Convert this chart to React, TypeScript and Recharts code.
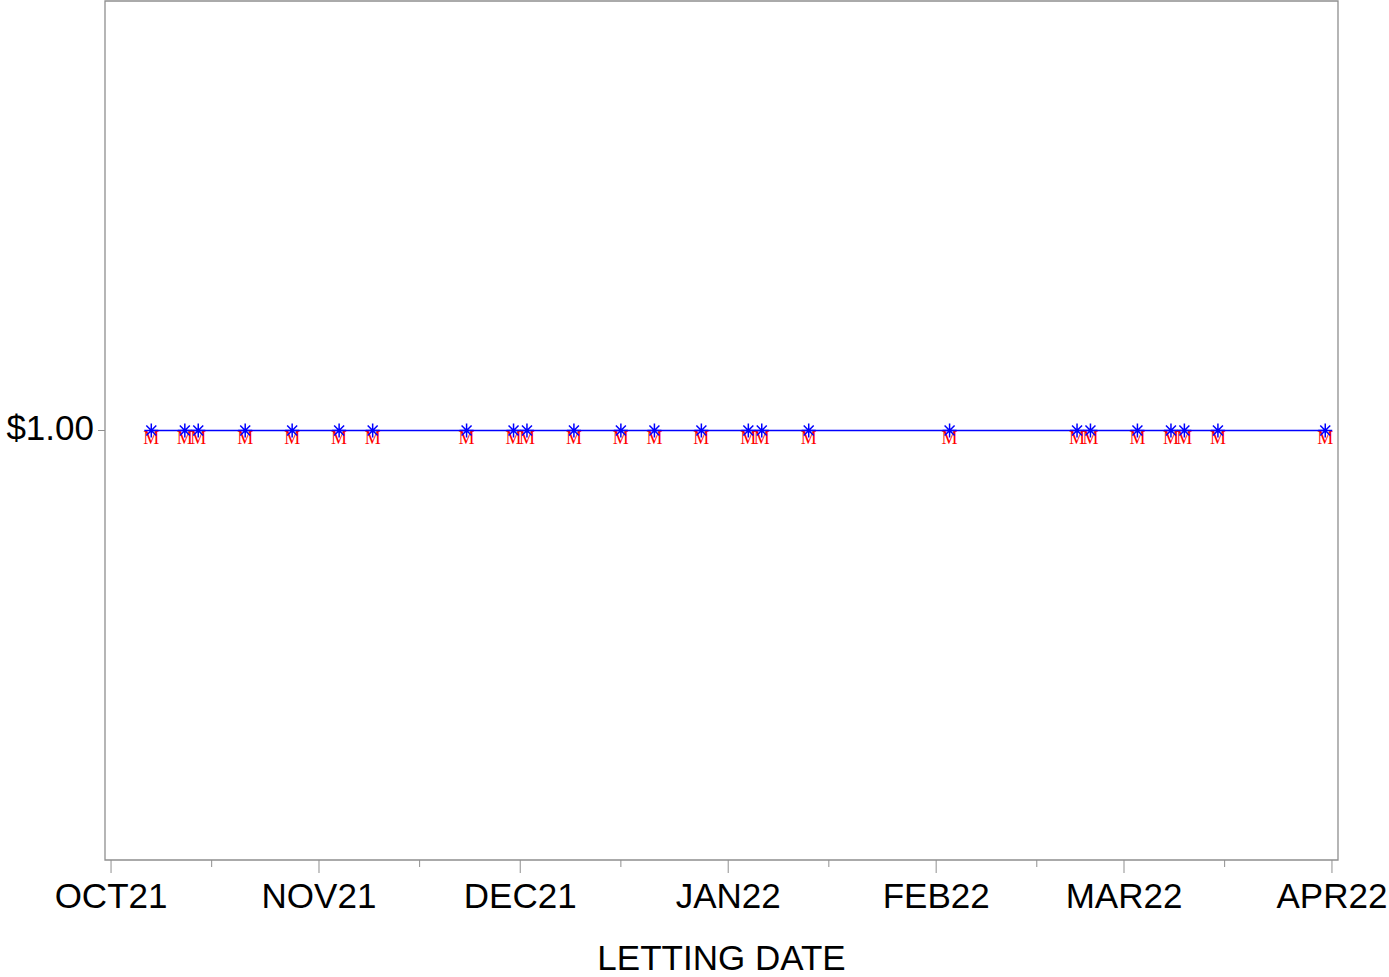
import React from "react";
import { LineChart, Line, XAxis, YAxis, ReferenceArea } from "recharts";

const lettingDates = [
  "2021-10-07", "2021-10-12", "2021-10-14", "2021-10-21", "2021-10-28",
  "2021-11-04", "2021-11-09", "2021-11-23", "2021-11-30", "2021-12-02",
  "2021-12-09", "2021-12-16", "2021-12-21", "2021-12-28", "2022-01-04",
  "2022-01-06", "2022-01-13", "2022-02-03", "2022-02-22", "2022-02-24",
  "2022-03-03", "2022-03-08", "2022-03-10", "2022-03-15", "2022-03-31",
];
const prices = [
  1, 1, 1, 1, 1, 1, 1, 1, 1, 1, 1, 1, 1, 1, 1, 1, 1, 1, 1, 1, 1, 1, 1, 1, 1,
];
const majorTickDates = [
  "2021-10-01", "2021-11-01", "2021-12-01", "2022-01-01",
  "2022-02-01", "2022-03-01", "2022-04-01",
];
const majorTickLabels = ["OCT21", "NOV21", "DEC21", "JAN22", "FEB22", "MAR22", "APR22"];
const minorTickDates = [
  "2021-10-16", "2021-11-16", "2021-12-16", "2022-01-16", "2022-02-16", "2022-03-16",
];
const yTicks = [1];
const xTitle = "LETTING DATE";
const pointLabel = "M";

const ORIGIN = Date.UTC(2021, 9, 1);
const toDay = (s: string) => {
  const [y, m, d] = s.split("-").map(Number);
  return (Date.UTC(y, m - 1, d) - ORIGIN) / 86400000;
};

const data = lettingDates.map((d, i) => ({ day: toDay(d), price: prices[i] }));
const majorDays = majorTickDates.map(toDay);
const minorDays = minorTickDates.map(toDay);
const allTicks = [...majorDays, ...minorDays].sort((a, b) => a - b);
const X_DOMAIN: [number, number] = [-0.9, 182.9];
const Y_DOMAIN: [number, number] = [0.5, 1.5];

const FRAME = "#8f8f8f";
const FONT = "'Liberation Sans', Arial, Helvetica, sans-serif";
const FS = 35;

const XTick = (props: any) => {
  const { x, y, payload } = props;
  const idx = majorDays.indexOf(payload.value);
  const major = idx >= 0;
  return (
    <g>
      <line x1={x} x2={x} y1={y} y2={y + (major ? 13 : 7)} stroke={FRAME} strokeWidth={1} />
      {major && (
        <text x={x} y={y + 48} textAnchor="middle" fontSize={FS} fontFamily={FONT} fill="#000">
          {majorTickLabels[idx]}
        </text>
      )}
    </g>
  );
};

const YTick = (props: any) => {
  const { x, y, payload } = props;
  return (
    <g>
      <line x1={x} x2={x + 7} y1={y} y2={y} stroke={FRAME} strokeWidth={1} />
      <text x={x - 4} y={y + 9} textAnchor="end" fontSize={FS} fontFamily={FONT} fill="#000">
        {"$" + Number(payload.value).toFixed(2)}
      </text>
    </g>
  );
};

const XTitle = (props: any) => {
  const vb = props.viewBox || {};
  return (
    <text
      x={vb.x + vb.width / 2}
      y={vb.y + 110}
      textAnchor="middle"
      fontSize={FS}
      fontFamily={FONT}
      fill="#000"
    >
      {xTitle}
    </text>
  );
};

const StarDot = (props: any) => {
  const { cx, cy, index } = props;
  if (cx == null || cy == null) return <g key={index} />;
  const a = 7;
  const b = 5;
  return (
    <g key={index}>
      <text
        x={cx}
        y={cy + 13}
        textAnchor="middle"
        fontSize={18}
        fontFamily="'Liberation Serif', 'Times New Roman', serif"
        fill="#ff0000"
      >
        {pointLabel}
      </text>
      <path
        d={`M${cx - a},${cy}L${cx + a},${cy}M${cx},${cy - a}L${cx},${cy + a}M${cx - b},${cy - b}L${cx + b},${cy + b}M${cx - b},${cy + b}L${cx + b},${cy - b}`}
        stroke="#0000ff"
        strokeWidth={1.5}
        fill="none"
      />
    </g>
  );
};

export default function App() {
  return (
    <div style={{ position: "absolute", left: 0, top: 0, width: 1389, height: 977, background: "#fff" }}>
      <LineChart
        width={1389}
        height={977}
        data={data}
        margin={{ top: 1, right: 51, bottom: 0, left: 0 }}
      >
        <XAxis
          dataKey="day"
          type="number"
          domain={X_DOMAIN}
          ticks={allTicks}
          interval={0}
          height={117}
          tickSize={0}
          tickMargin={0}
          axisLine={false}
          tickLine={false}
          tick={<XTick />}
          label={<XTitle />}
          allowDataOverflow
        />
        <YAxis
          type="number"
          domain={Y_DOMAIN}
          ticks={yTicks}
          width={105}
          tickSize={0}
          tickMargin={0}
          axisLine={false}
          tickLine={false}
          tick={(p: any) => <YTick {...p} x={p.x - 7} />}
          allowDataOverflow
        />
        <ReferenceArea
          x1={X_DOMAIN[0]}
          x2={X_DOMAIN[1]}
          y1={Y_DOMAIN[0]}
          y2={Y_DOMAIN[1]}
          fill="none"
          fillOpacity={0}
          stroke={FRAME}
          strokeWidth={1.3}
          ifOverflow="visible"
        />
        <Line
          dataKey="price"
          type="linear"
          stroke="#0000ff"
          strokeWidth={1.5}
          dot={(p: any) => <StarDot key={p.index} {...p} />}
          activeDot={false}
          isAnimationActive={false}
        />
      </LineChart>
    </div>
  );
}
